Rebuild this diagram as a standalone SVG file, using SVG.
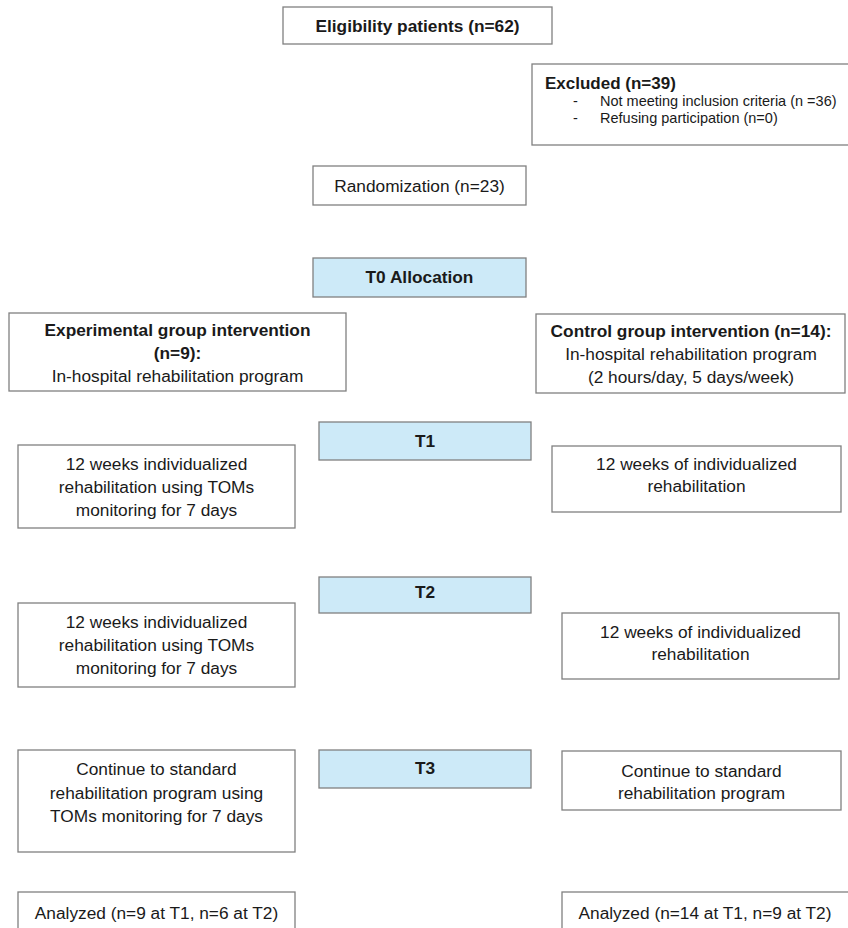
<svg xmlns="http://www.w3.org/2000/svg" width="848" height="928" viewBox="0 0 848 928">
<style>
.box{fill:#ffffff;stroke:#808080;stroke-width:1.3}
.tp{fill:#cdeaf8;stroke:#808080;stroke-width:1.3}
text{font-family:"Liberation Sans",Arial,sans-serif;fill:#1a1a1a;text-anchor:middle}
.b{font-weight:bold}
.s16{font-size:17.3px}
.s15{font-size:17.3px}
.s12{font-size:14.5px;text-anchor:start}
</style>
<rect width="848" height="928" fill="#ffffff"/>
<g id="eligibility">
<rect class="box" x="283" y="7" width="269" height="37"/>
<text class="b s15" x="417.5" y="32">Eligibility patients (n=62)</text>
</g>
<g id="excluded">
<rect class="box" x="532" y="64" width="320" height="81"/>
<text class="b" x="545" y="89" style="text-anchor:start;font-size:17px">Excluded (n=39)</text>
<text class="s12" x="573" y="106">-</text>
<text class="s12" x="600" y="106">Not meeting inclusion criteria (n =36)</text>
<text class="s12" x="573" y="123">-</text>
<text class="s12" x="600" y="123">Refusing participation (n=0)</text>
</g>
<g id="randomization">
<rect class="box" x="313" y="166" width="213" height="39"/>
<text class="s16" x="419.5" y="192">Randomization (n=23)</text>
</g>
<g id="t0">
<rect class="tp" x="313" y="258" width="213" height="39"/>
<text class="b s15" x="419.5" y="283">T0 Allocation</text>
</g>
<g id="experimental">
<rect class="box" x="9" y="313" width="337" height="78"/>
<text class="b s16" x="177.5" y="336">Experimental group intervention</text>
<text class="b s16" x="177.5" y="359">(n=9):</text>
<text class="s16" x="177.5" y="382">In-hospital rehabilitation program</text>
</g>
<g id="control">
<rect class="box" x="536" y="314" width="309" height="79"/>
<text class="b s16" x="691" y="337">Control group intervention (n=14):</text>
<text class="s16" x="691" y="360">In-hospital rehabilitation program</text>
<text class="s16" x="691" y="383">(2 hours/day, 5 days/week)</text>
</g>
<g id="t1">
<rect class="tp" x="319" y="422" width="212" height="38"/>
<text class="b s15" x="425" y="447">T1</text>
</g>
<g id="exp-t1">
<rect class="box" x="18" y="445" width="277" height="83"/>
<text class="s16" x="156.5" y="470">12 weeks individualized</text>
<text class="s16" x="156.5" y="493">rehabilitation using TOMs</text>
<text class="s16" x="156.5" y="516">monitoring for 7 days</text>
</g>
<g id="ctrl-t1">
<rect class="box" x="552" y="446" width="289" height="66"/>
<text class="s16" x="696.5" y="470">12 weeks of individualized</text>
<text class="s16" x="696.5" y="492">rehabilitation</text>
</g>
<g id="t2">
<rect class="tp" x="319" y="577" width="212" height="36"/>
<text class="b s15" x="425" y="598">T2</text>
</g>
<g id="exp-t2">
<rect class="box" x="18" y="603" width="277" height="84"/>
<text class="s16" x="156.5" y="628">12 weeks individualized</text>
<text class="s16" x="156.5" y="651">rehabilitation using TOMs</text>
<text class="s16" x="156.5" y="674">monitoring for 7 days</text>
</g>
<g id="ctrl-t2">
<rect class="box" x="562" y="613" width="277" height="66"/>
<text class="s16" x="700.5" y="638">12 weeks of individualized</text>
<text class="s16" x="700.5" y="660">rehabilitation</text>
</g>
<g id="t3">
<rect class="tp" x="319" y="750" width="212" height="38"/>
<text class="b s15" x="425" y="774">T3</text>
</g>
<g id="exp-t3">
<rect class="box" x="18" y="750" width="277" height="102"/>
<text class="s16" x="156.5" y="775">Continue to standard</text>
<text class="s16" x="156.5" y="799">rehabilitation program using</text>
<text class="s16" x="156.5" y="822">TOMs monitoring for 7 days</text>
</g>
<g id="ctrl-t3">
<rect class="box" x="562" y="751" width="279" height="59"/>
<text class="s16" x="701.5" y="777">Continue to standard</text>
<text class="s16" x="701.5" y="799">rehabilitation program</text>
</g>
<g id="exp-analyzed">
<rect class="box" x="18" y="892" width="277" height="50"/>
<text class="s16" x="156.5" y="919">Analyzed (n=9 at T1, n=6 at T2)</text>
</g>
<g id="ctrl-analyzed">
<rect class="box" x="562" y="892" width="300" height="50"/>
<text class="s16" x="705" y="919">Analyzed (n=14 at T1, n=9 at T2)</text>
</g>
<g id="connectors"></g>
</svg>
